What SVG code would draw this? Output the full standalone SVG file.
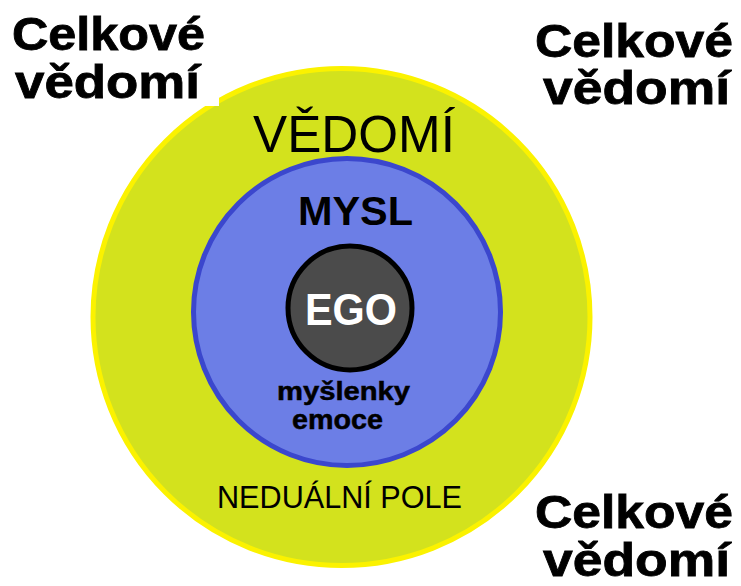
<svg xmlns="http://www.w3.org/2000/svg" width="741" height="586" viewBox="0 0 741 586">
  <style>
    .lbl { font-family: "Liberation Sans", Arial, sans-serif; fill: #000; }
    .b { font-weight: bold; }
    .corner { font-size: 46px; stroke: #000; stroke-width: 0.8px; }
    .heavy { stroke: #000; stroke-width: 0.5px; }
  </style>
  <rect width="741" height="586" fill="#fff"/>

  <!-- outer field: awareness -->
  <g id="vedomi">
    <circle cx="341.5" cy="317" r="248.5" fill="#d3e21d" stroke="#fbf200" stroke-width="5"/>
    <text class="lbl" x="253" y="152" font-size="52" textLength="202" lengthAdjust="spacingAndGlyphs">VĚDOMÍ</text>
    <text class="lbl" x="217" y="508" font-size="30.5" textLength="245" lengthAdjust="spacingAndGlyphs">NEDUÁLNÍ POLE</text>
  </g>

  <!-- mind ring -->
  <g id="mysl">
    <circle cx="347" cy="312" r="153.5" fill="#6c7ee6" stroke="#3b47cd" stroke-width="5"/>
    <text class="lbl b" x="298" y="225" font-size="41.5" textLength="115" lengthAdjust="spacingAndGlyphs">MYSL</text>
    <text class="lbl b heavy" x="277" y="400" font-size="25.5" textLength="133" lengthAdjust="spacingAndGlyphs">myšlenky</text>
    <text class="lbl b heavy" x="292" y="429" font-size="28.5" textLength="91" lengthAdjust="spacingAndGlyphs">emoce</text>
  </g>

  <!-- ego core -->
  <g id="ego">
    <circle cx="350" cy="308" r="62" fill="#4b4b4b" stroke="#000" stroke-width="5"/>
    <text class="lbl b" x="305" y="325" font-size="44" style="fill:#fff" textLength="92" lengthAdjust="spacingAndGlyphs">EGO</text>
  </g>

  <!-- corner captions -->
  <g id="celkove-tl">
    <rect x="0" y="0" width="219" height="106" fill="#fff"/>
    <text class="lbl b corner" x="12" y="50" textLength="193" lengthAdjust="spacingAndGlyphs">Celkové</text>
    <text class="lbl b corner" x="15" y="98" textLength="185" lengthAdjust="spacingAndGlyphs">vědomí</text>
  </g>
  <g id="celkove-tr">
    <text class="lbl b corner" x="535" y="57" textLength="198" lengthAdjust="spacingAndGlyphs">Celkové</text>
    <text class="lbl b corner" x="543" y="104" textLength="187" lengthAdjust="spacingAndGlyphs">vědomí</text>
  </g>
  <g id="celkove-br">
    <text class="lbl b corner" x="535" y="528" textLength="198" lengthAdjust="spacingAndGlyphs">Celkové</text>
    <text class="lbl b corner" x="543" y="576" textLength="187" lengthAdjust="spacingAndGlyphs">vědomí</text>
  </g>
</svg>
